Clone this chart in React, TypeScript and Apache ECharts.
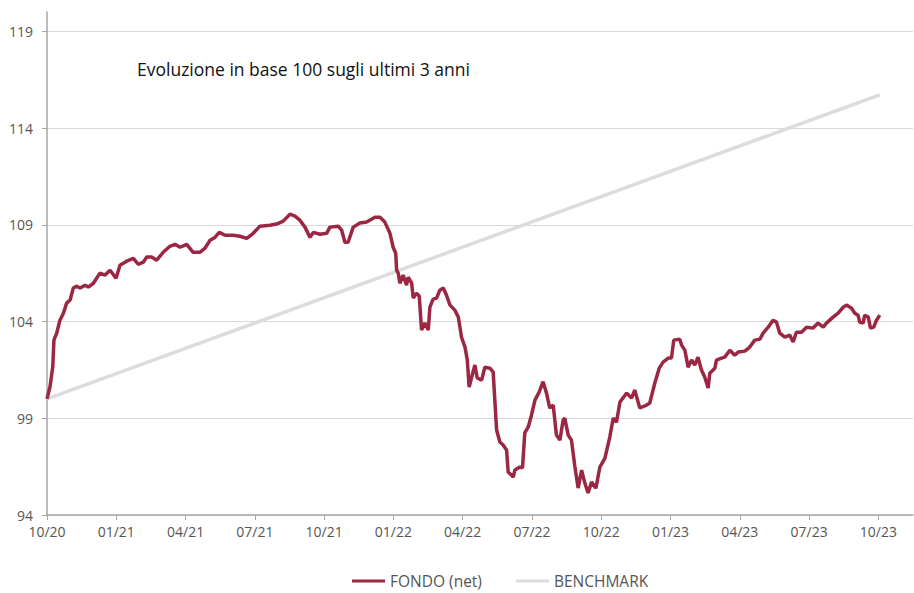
import React, { useEffect, useRef } from "react";
import * as echarts from "echarts";

// x values: months elapsed since October 2020
const fondoMonths = [
  0.0, 0.13, 0.25, 0.3, 0.42, 0.56, 0.71, 0.85, 1.0, 1.14, 1.29, 1.43, 1.65, 1.79, 2.01, 2.29, 2.51, 2.73, 2.99, 3.16,
  3.45, 3.74, 3.95, 4.17, 4.32, 4.53, 4.75, 5.03, 5.32, 5.54, 5.76, 6.05, 6.33, 6.62, 6.84, 7.06, 7.27, 7.46, 7.71, 8.07,
  8.35, 8.65, 8.93, 9.22, 9.65, 9.94, 10.23, 10.52, 10.74, 10.95, 11.17, 11.39, 11.53, 11.82, 12.11, 12.25, 12.61, 12.76, 12.9, 13.04,
  13.26, 13.55, 13.84, 14.2, 14.42, 14.63, 14.85, 14.99, 15.1, 15.14, 15.21, 15.28, 15.42, 15.57, 15.64, 15.79, 15.86, 16.0, 16.12, 16.22,
  16.36, 16.51, 16.58, 16.72, 16.87, 17.01, 17.16, 17.3, 17.45, 17.66, 17.81, 17.95, 18.1, 18.2, 18.28, 18.38, 18.53, 18.63, 18.82, 18.96,
  19.18, 19.32, 19.47, 19.61, 19.75, 19.9, 19.97, 20.19, 20.26, 20.48, 20.59, 20.69, 20.84, 20.98, 21.13, 21.31, 21.48, 21.63, 21.77, 21.92,
  22.06, 22.21, 22.35, 22.42, 22.57, 22.71, 22.86, 23.0, 23.15, 23.29, 23.43, 23.58, 23.77, 23.94, 24.16, 24.37, 24.52, 24.66, 24.81, 25.1,
  25.31, 25.45, 25.67, 25.96, 26.1, 26.32, 26.51, 26.68, 26.9, 27.04, 27.14, 27.4, 27.48, 27.62, 27.76, 27.91, 28.05, 28.19, 28.34, 28.48,
  28.63, 28.7, 28.92, 28.99, 29.21, 29.35, 29.57, 29.78, 29.93, 30.22, 30.43, 30.65, 30.87, 31.01, 31.23, 31.44, 31.59, 31.73, 31.95, 32.16,
  32.31, 32.45, 32.67, 32.89, 33.17, 33.39, 33.61, 33.75, 34.04, 34.26, 34.48, 34.62, 34.84, 34.98, 35.12, 35.19, 35.34, 35.41, 35.56, 35.66,
  35.8, 35.92, 36.06,
];

const fondoValues = [
  100.0, 100.63, 101.66, 103.04, 103.4, 104.07, 104.43, 104.95, 105.11, 105.73, 105.83, 105.73, 105.88, 105.78, 105.98, 106.5, 106.4, 106.65, 106.24, 106.91,
  107.12, 107.27, 106.96, 107.07, 107.33, 107.33, 107.17, 107.58, 107.89, 107.99, 107.84, 107.99, 107.58, 107.58, 107.79, 108.2, 108.35, 108.61, 108.46, 108.46,
  108.41, 108.3, 108.56, 108.93, 108.98, 109.04, 109.19, 109.55, 109.45, 109.24, 108.88, 108.35, 108.61, 108.51, 108.56, 108.88, 108.93, 108.72, 108.1, 108.1,
  108.88, 109.09, 109.14, 109.39, 109.39, 109.14, 108.56, 107.84, 107.53, 106.65, 106.5, 105.98, 106.4, 105.88, 106.29, 105.98, 105.21, 105.47, 105.31, 103.56,
  103.92, 103.56, 104.74, 105.16, 105.21, 105.62, 105.73, 105.36, 104.85, 104.59, 104.23, 103.19, 102.68, 102.01, 100.61, 101.08, 101.75, 101.08, 100.97, 101.64,
  101.59, 101.39, 98.39, 97.77, 97.62, 97.36, 96.22, 95.96, 96.32, 96.48, 96.43, 98.24, 98.55, 99.17, 99.94, 100.35, 100.89, 100.3, 99.53, 99.68,
  98.13, 97.87, 98.91, 99.01, 98.13, 97.87, 96.48, 95.39, 96.32, 95.65, 95.14, 95.7, 95.39, 96.48, 96.94, 98.03, 99.01, 98.8, 99.84, 100.3,
  100.04, 100.46, 99.53, 99.68, 99.79, 100.82, 101.59, 101.9, 102.11, 102.11, 103.04, 103.09, 102.78, 102.52, 101.64, 102.01, 101.75, 102.16, 101.49, 101.13,
  100.56, 101.33, 101.59, 102.01, 102.11, 102.16, 102.52, 102.26, 102.42, 102.47, 102.68, 103.04, 103.09, 103.4, 103.71, 104.07, 103.97, 103.4, 103.19, 103.3,
  102.94, 103.45, 103.45, 103.71, 103.66, 103.92, 103.71, 103.92, 104.23, 104.43, 104.74, 104.85, 104.69, 104.43, 104.33, 103.97, 103.92, 104.33, 104.23, 103.66,
  103.71, 104.07, 104.33,
];

const benchmarkMonths = [0, 36.06];
const benchmarkValues = [100.0, 115.72];

const xTickMonths = [0, 3, 6, 9, 12, 15, 18, 21, 24, 27, 30, 33, 36];
const yTickValues = [94, 99, 104, 109, 114, 119];

const seriesNames = ["FONDO (net)", "BENCHMARK"];
const titleText = "Evoluzione in base 100 sugli ultimi 3 anni";

const FONT = "'Open Sans', 'DejaVu Sans', sans-serif";

function monthLabel(m: number): string {
  const idx = 9 + Math.round(m);
  const month = (idx % 12) + 1;
  const year = 20 + Math.floor(idx / 12);
  return String(month).padStart(2, "0") + "/" + String(year);
}

export default function App() {
  const ref = useRef<HTMLDivElement>(null);

  useEffect(() => {
    if (!ref.current) return;
    const chart = echarts.init(ref.current, undefined, { renderer: "svg" });
    const fondoData = fondoMonths.map((m, i) => [m, fondoValues[i]]);
    const benchData = benchmarkMonths.map((m, i) => [m, benchmarkValues[i]]);

    chart.setOption({
      animation: false,
      backgroundColor: "#ffffff",
      title: {
        text: titleText,
        left: 132,
        top: 55,
        textStyle: { fontFamily: FONT, fontSize: 17.5, fontWeight: "normal", color: "#111111" },
      },
      legend: {
        left: 352,
        top: 573,
        padding: 0,
        itemWidth: 33,
        itemHeight: 3,
        itemGap: 34,
        icon: "rect",
        textStyle: { fontFamily: FONT, fontSize: 15.5, color: "#555555" },
        data: seriesNames,
      },
      grid: { left: 47, right: 1, top: 12, bottom: 78, containLabel: false },
      xAxis: {
        type: "value",
        min: 0,
        max: 37.5,
        interval: 3,
        axisLine: { show: true, lineStyle: { color: "#a6a6a6", width: 1.5 } },
        axisTick: { show: true, length: 5, lineStyle: { color: "#a6a6a6" }, customValues: xTickMonths },
        axisLabel: {
          customValues: xTickMonths,
          formatter: (v: number) => monthLabel(v),
          color: "#555555",
          fontFamily: FONT,
          fontSize: 14,
          margin: 9,
        },
        splitLine: { show: false },
      },
      yAxis: {
        type: "value",
        min: 94,
        max: 120,
        interval: 5,
        axisLine: { show: true, lineStyle: { color: "#a6a6a6", width: 1.5 } },
        axisTick: { show: true, length: 5, lineStyle: { color: "#a6a6a6" }, customValues: yTickValues },
        axisLabel: {
          customValues: yTickValues,
          color: "#555555",
          fontFamily: FONT,
          fontSize: 14,
          margin: 14,
        },
        splitLine: { show: true, lineStyle: { color: "#d9d9d9", width: 1 } },
      },
      series: [
        {
          name: seriesNames[1],
          type: "line",
          data: benchData,
          symbol: "none",
          lineStyle: { color: "#dcdcdc", width: 3.5 },
          itemStyle: { color: "#dcdcdc" },
          z: 2,
        },
        {
          name: seriesNames[0],
          type: "line",
          data: fondoData,
          symbol: "none",
          lineStyle: { color: "#9b2743", width: 3.5 },
          itemStyle: { color: "#9b2743" },
          z: 3,
        },
      ],
    });
    return () => chart.dispose();
  }, []);

  return (
    <div
      ref={ref}
      style={{ position: "fixed", left: 0, top: 0, width: 914, height: 593, background: "#fff" }}
    />
  );
}
